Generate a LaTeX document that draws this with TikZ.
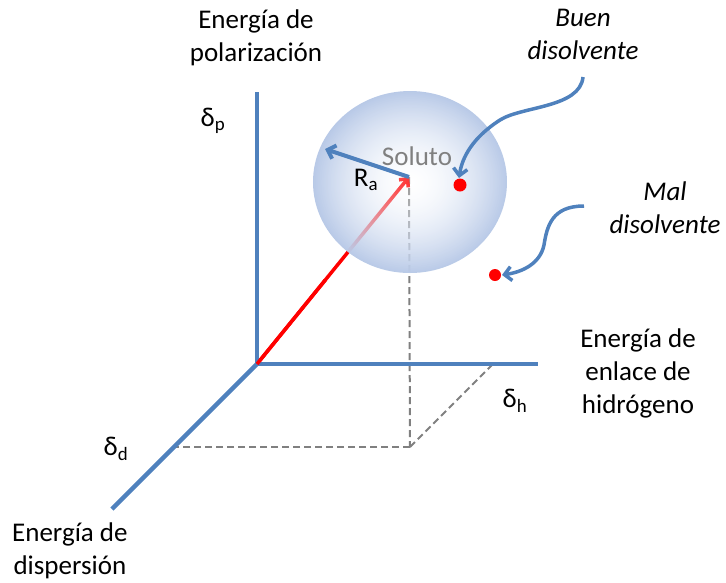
\documentclass[tikz,border=0pt]{standalone}
\usepackage{fontspec}
\setmainfont{Carlito}
\usetikzlibrary{arrows.meta,fadings,calc}

\definecolor{asseblu}{RGB}{79,129,189}
\definecolor{sferablu}{RGB}{184,201,231}
\definecolor{grigio}{RGB}{128,128,128}

\tikzfading[name=sferafade, inner color=transparent!80, outer color=transparent!0]

\tikzset{
  asse/.style={line width=4.5pt, asseblu},
  proiezione/.style={line width=2pt, grigio, dash pattern=on 7pt off 4pt},
  freccia/.style={line width=3.5pt, -{Straight Barb[length=7pt,width=14pt]}},
  etichetta/.style={font=\fontsize{27}{33}\selectfont, align=center, inner sep=0pt},
  nota/.style={etichetta, font=\fontsize{27}{33}\selectfont\itshape},
  punto/.style={fill=red, draw=none}
}

\begin{document}
\begin{tikzpicture}[x=1pt, y=-1pt]
    \useasboundingbox (0,0) rectangle (726,582);

    % Punti di riferimento
    \coordinate (O) at (257,364);
    \coordinate (Ptop) at (257,92);
    \coordinate (Hend) at (538,364);
    \coordinate (Dend) at (112,509);
    \coordinate (C) at (409,177);
    \coordinate (F) at (410,447);
    \coordinate (Dproj) at (174,447);
    \coordinate (Hproj) at (493,364);
    \coordinate (Raend) at (325,149);

    % Proiezioni tratteggiate
    \draw[proiezione] (C) -- (F);
    \draw[proiezione] (F) -- (Dproj);
    \draw[proiezione] (F) -- (Hproj);

    % Vettore del soluto
    \draw[freccia, red, line width=3.5pt, -{Straight Barb[length=6pt,width=12pt]}] (O) -- (C);

    % Sfera di solubilita
    \shade[inner color=white, outer color=sferablu, path fading=sferafade]
        (410,182) ellipse [x radius=97, y radius=91];

    % Assi
    \draw[asse] (Ptop) -- (O) -- (Hend);
    \draw[asse] (O) -- (Dend);
    \draw[red, line width=3.5pt] (O) -- ($(O)!0.45!(C)$);

    % Raggio di interazione
    \draw[freccia, asseblu, line width=4pt] (C) -- (Raend);
    \node[etichetta, text=grigio] (soluto) at (417,156) {Soluto};
    \node[etichetta] (ra) at (366,180) {R\textsubscript{a}};

    % Disolventi
    \fill[punto] (460,185) circle (6.5);
    \fill[punto] (495,275) circle (6);
    \coordinate (buono) at (459,178);
    \coordinate (cattivo) at (502,275);

    % Etichette degli assi
    \node[etichetta] (pol) at (256,38) {Energía de\\polarización};
    \node[etichetta] (enl) at (638,373) {Energía de\\enlace de\\hidrógeno};
    \node[etichetta, anchor=west] (dis) at (12,551) {Energía de\\dispersión};
    \node[etichetta] (dp) at (213,121) {δ\textsubscript{p}};
    \node[etichetta] (dh) at (515,401) {δ\textsubscript{h}};
    \node[etichetta] (dd) at (116,449) {δ\textsubscript{d}};

    % Note
    \node[nota] (buen) at (583,34) {Buen\\disolvente};
    \node[nota] (mal) at (665,208) {Mal\\disolvente};
    \coordinate (buenstart) at (583,77);
    \coordinate (malstart) at (584,206);
    \draw[freccia, asseblu] (buenstart) .. controls (580,108) and (522,106) .. (500,120)
        .. controls (472,138) and (462,158) .. (buono);
    \draw[freccia, asseblu] (malstart) .. controls (552,206) and (547,226) .. (544,245)
        .. controls (540,264) and (522,272) .. (cattivo);
\end{tikzpicture}
\end{document}
